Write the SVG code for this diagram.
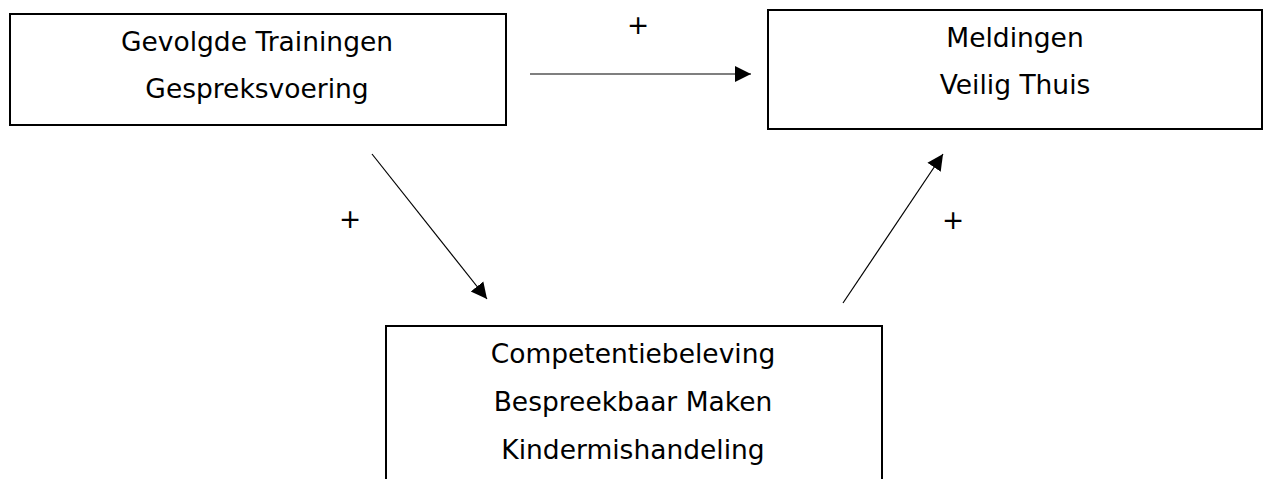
<svg xmlns="http://www.w3.org/2000/svg" width="1263" height="479" viewBox="0 0 1263 479">
<style>
.box{fill:#fff;stroke:#000;stroke-width:2}
.t{font-family:"DejaVu Sans",Verdana,sans-serif;font-size:26.5px;fill:#000;text-anchor:middle}
.c{stroke:#000;stroke-width:1.2;fill:none;marker-end:url(#ah)}
</style>
<defs>
<marker id="ah" markerUnits="userSpaceOnUse" markerWidth="17" markerHeight="18" viewBox="0 0 17 18" refX="16" refY="9" orient="auto">
<path d="M0,1 L16,9 L0,17 Z" fill="#000"/>
</marker>
</defs>
<rect width="1263" height="479" fill="#fff"/>
<g id="node-trainingen">
<rect class="box" x="10" y="14" width="496" height="111"/>
<text class="t" x="257" y="51">Gevolgde Trainingen</text>
<text class="t" x="257" y="98">Gespreksvoering</text>
</g>
<g id="node-meldingen">
<rect class="box" x="768" y="10" width="494" height="119"/>
<text class="t" x="1015" y="47">Meldingen</text>
<text class="t" x="1015" y="94">Veilig Thuis</text>
</g>
<g id="node-competentie">
<rect class="box" x="386" y="326" width="496" height="170"/>
<text class="t" x="633" y="363">Competentiebeleving</text>
<text class="t" x="633" y="411">Bespreekbaar Maken</text>
<text class="t" x="633" y="459">Kindermishandeling</text>
</g>
<g id="connectors">
<line class="c" x1="530" y1="74" x2="751" y2="74"/>
<line class="c" x1="372" y1="154" x2="487" y2="299"/>
<line class="c" x1="843" y1="303" x2="943" y2="154"/>
<text class="t" x="638" y="34">+</text>
<text class="t" x="350" y="228">+</text>
<text class="t" x="953" y="229">+</text>
</g>
</svg>
